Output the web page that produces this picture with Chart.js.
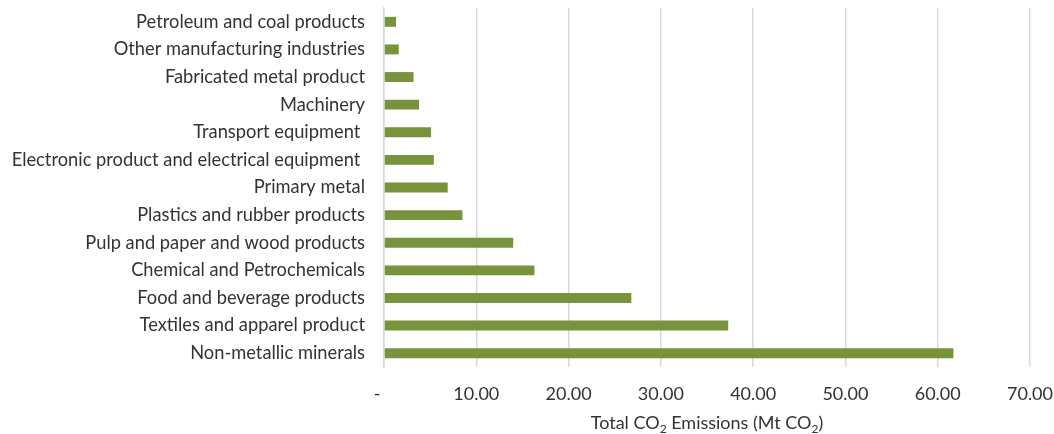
<!DOCTYPE html>
<html>
<head>
<meta charset="utf-8">
<title>Total CO2 Emissions by Industry</title>
<script src="https://cdn.jsdelivr.net/npm/chart.js@4.4.1/dist/chart.umd.min.js"></script>
<style>
  html, body { margin: 0; padding: 0; background: #ffffff; }
  #wrap { width: 1054px; height: 434px; }
</style>
</head>
<body>
<div id="wrap"><canvas id="chart" width="1054" height="434"></canvas></div>
<script>
// Industries, listed top to bottom
const industries = [
  'Petroleum and coal products',
  'Other manufacturing industries',
  'Fabricated metal product',
  'Machinery',
  'Transport equipment ',
  'Electronic product and electrical equipment ',
  'Primary metal',
  'Plastics and rubber products',
  'Pulp and paper and wood products',
  'Chemical and Petrochemicals',
  'Food and beverage products',
  'Textiles and apparel product',
  'Non-metallic minerals'
];

// Total CO2 emissions, Mt CO2
const emissions = [1.3, 1.6, 3.2, 3.8, 5.1, 5.4, 6.9, 8.5, 14.0, 16.3, 26.8, 37.3, 61.7];

// Horizontal axis ticks
const xTicks = [0, 10, 20, 30, 40, 50, 60, 70];

// Axis title pieces; "sub" pieces are drawn as subscripts
const axisTitle = [
  { text: 'Total CO' }, { text: '2', sub: true },
  { text: ' Emissions (Mt CO' }, { text: '2', sub: true }, { text: ')' }
];

const FONT = 'Lato, "Open Sans", sans-serif';
const TEXT = '#333333';
const GRID = '#d9d9d9';

// Draws the horizontal axis title with real subscripts
const subscriptTitle = {
  id: 'subscriptTitle',
  afterDraw(chart) {
    const { ctx, chartArea } = chart;
    const size = 18, subSize = 12;
    ctx.save();
    ctx.fillStyle = TEXT;
    ctx.textBaseline = 'alphabetic';
    ctx.textAlign = 'left';
    let total = 0;
    const widths = axisTitle.map(p => {
      ctx.font = (p.sub ? subSize : size) + 'px ' + FONT;
      const w = ctx.measureText(p.text).width;
      total += w;
      return w;
    });
    let x = (chartArea.left + chartArea.right) / 2 - total / 2;
    const base = 429;
    axisTitle.forEach((p, i) => {
      ctx.font = (p.sub ? subSize : size) + 'px ' + FONT;
      ctx.fillText(p.text, x, p.sub ? base + 4 : base);
      x += widths[i];
    });
    ctx.restore();
  }
};

new Chart(document.getElementById('chart'), {
  type: 'bar',
  data: {
    labels: industries,
    datasets: [{
      data: emissions,
      backgroundColor: '#77933c',
      borderWidth: 0,
      barPercentage: 0.6,
      categoryPercentage: 0.6
    }]
  },
  options: {
    indexAxis: 'y',
    responsive: false,
    animation: false,
    devicePixelRatio: 1,
    layout: { padding: { top: 8, right: 24, bottom: 0, left: 0 } },
    plugins: {
      legend: { display: false },
      tooltip: { enabled: false }
    },
    scales: {
      x: {
        min: 0,
        max: 70,
        afterBuildTicks(scale) { scale.ticks = xTicks.map(v => ({ value: v })); },
        afterFit(scale) {
          scale.height = 67;
          scale.paddingLeft = 0;
          scale.paddingRight = 0;
        },
        grid: { color: GRID, lineWidth: 1.5, drawTicks: false },
        border: { display: false },
        ticks: {
          padding: 16,
          color: TEXT,
          font: { family: FONT, size: 18 },
          maxRotation: 0,
          callback: v => (v === 0 ? '-   ' : v.toFixed(2))
        }
      },
      y: {
        afterFit(scale) {
          scale.width = 384;
          scale.paddingTop = 0;
          scale.paddingBottom = 0;
        },
        grid: { display: false, drawTicks: false },
        border: { display: true, color: GRID, width: 1.5 },
        ticks: {
          padding: 19,
          color: TEXT,
          font: { family: FONT, size: 18.3 },
          autoSkip: false
        }
      }
    }
  },
  plugins: [subscriptTitle]
});
</script>
</body>
</html>
